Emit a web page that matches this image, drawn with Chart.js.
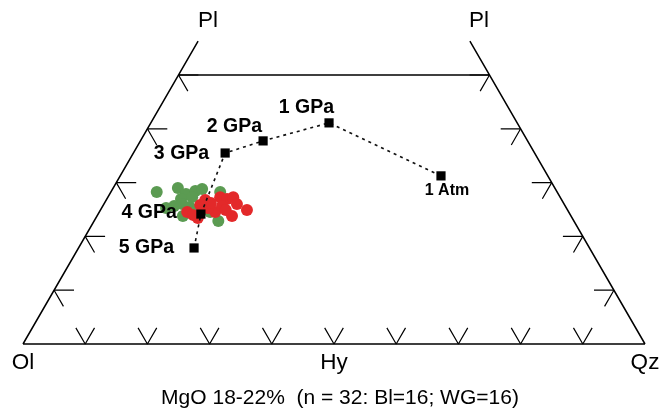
<!DOCTYPE html>
<html><head><meta charset="utf-8">
<script src="https://cdn.jsdelivr.net/npm/chart.js@4.4.0/dist/chart.umd.min.js"></script>
<style>html,body{margin:0;padding:0;background:#fff}canvas{display:block}</style>
</head><body>
<canvas id="c" width="664" height="409"></canvas>
<script>
// Diagram coordinates: x runs Ol (0) – Hy (50) – Qz (100) along the base,
// y is the Pl fraction (0 at the base, 100 at the Pl apices).
const pressureLabels = ['5 GPa', '4 GPa', '3 GPa', '2 GPa', '1 GPa', '1 Atm'];
const pressureX = [27.5, 28.6, 32.5, 38.6, 49.2, 67.2];
const pressureY = [35.7, 48.3, 71.0, 75.5, 82.2, 62.5];

const greenX = [21.5, 24.9, 26.2, 27.7, 28.8, 25.4, 24.3, 25.6, 26.8, 25.7, 31.7, 31.4, 30.1, 28.0, 23.0, 27.2];
const greenY = [56.5, 58.0, 55.8, 56.9, 57.6, 53.9, 51.3, 52.0, 50.9, 47.6, 56.5, 45.7, 49.1, 49.8, 50.6, 54.6];

const redX = [29.3, 31.7, 32.8, 33.8, 34.4, 36.0, 33.6, 30.9, 29.7, 28.1, 26.4, 27.3, 30.2, 32.0, 28.5, 32.6];
const redY = [53.5, 54.6, 53.9, 54.6, 52.0, 49.8, 47.6, 49.1, 50.6, 46.8, 49.1, 48.0, 52.4, 51.3, 51.7, 49.8];

const cornerNames = ['Ol', 'Hy', 'Qz', 'Pl', 'Pl'];
const captionText = 'MgO 18-22%  (n = 32: Bl=16; WG=16)';
const sideTickFractions = [0.2, 0.4, 0.6, 0.8, 1.0];
const baseTicks = [10, 20, 30, 40, 50, 60, 70, 80, 90];

// ---- build geometry (diagram units) ----
const GAP = {x: null, y: null};
const frame = [];
function seg(a, b) { frame.push({x: a[0], y: a[1]}, {x: b[0], y: b[1]}, GAP); }
const ext = 1.126;
seg([0, 0], [100, 0]);
seg([0, 0], [25 * ext, 100 * ext]);
seg([100, 0], [100 - 25 * ext, 100 * ext]);
seg([25, 100], [75, 100]);

const ticks = [];
function tseg(a, b) { ticks.push({x: a[0], y: a[1]}, {x: b[0], y: b[1]}, GAP); }
const f = 0.06, hLen = 3.2;
sideTickFractions.forEach(t => {
  const lx = 25 * t, ly = 100 * t;
  tseg([lx, ly], [lx + hLen, ly]);
  tseg([lx, ly], [lx + 25 * f, ly - 100 * f]);
  const rx = 100 - 25 * t;
  tseg([rx, ly], [rx - hLen, ly]);
  tseg([rx, ly], [rx - 25 * f, ly - 100 * f]);
});
baseTicks.forEach(x => {
  tseg([x, 0], [x - 25 * f, 100 * f]);
  tseg([x, 0], [x + 25 * f, 100 * f]);
});

const toPts = (xs, ys) => xs.map((x, i) => ({x, y: ys[i]}));

// label offsets (pixels) relative to each pressure point
const labelOffsets = {
  '5 GPa': [-20, 0, 'right'], '4 GPa': [-24, -1, 'right'], '3 GPa': [-16, 1, 'right'],
  '2 GPa': [-1, -14, 'right'], '1 GPa': [5, -15, 'right'], '1 Atm': [6, 15, 'center']
};

const textPlugin = {
  id: 'texts',
  afterDatasetsDraw(chart) {
    const {ctx, scales: {x, y}} = chart;
    ctx.save();
    ctx.fillStyle = '#000';
    ctx.textBaseline = 'middle';
    pressureLabels.forEach((lab, i) => {
      const o = labelOffsets[lab];
      ctx.font = lab === '1 Atm' ? 'bold 16px "Liberation Sans", Arial, sans-serif'
                                 : 'bold 19.5px "Liberation Sans", Arial, sans-serif';
      ctx.textAlign = o[2];
      ctx.fillText(lab, x.getPixelForValue(pressureX[i]) + o[0], y.getPixelForValue(pressureY[i]) + o[1]);
    });
    ctx.font = '22.5px "Liberation Sans", Arial, sans-serif';
    ctx.textAlign = 'center';
    const by = y.getPixelForValue(0) + 19;
    ctx.fillText(cornerNames[0], x.getPixelForValue(0), by);
    ctx.fillText(cornerNames[1], x.getPixelForValue(50), by);
    ctx.fillText(cornerNames[2], x.getPixelForValue(100), by);
    const ty = y.getPixelForValue(100) - 54;
    ctx.fillText(cornerNames[3], x.getPixelForValue(25 * ext) + 10, ty);
    ctx.fillText(cornerNames[4], x.getPixelForValue(100 - 25 * ext) + 9, ty);
    ctx.font = '21px "Liberation Sans", Arial, sans-serif';
    ctx.fillText(captionText, x.getPixelForValue(50) + 6, y.getPixelForValue(0) + 54);
    ctx.restore();
  }
};

new Chart(document.getElementById('c'), {
  type: 'scatter',
  data: {
    datasets: [
      {label: 'P', data: toPts(pressureX, pressureY), showLine: true, borderColor: '#111',
       borderWidth: 1.6, borderDash: [3, 4], pointStyle: 'rect', pointRadius: 6.5,
       pointBackgroundColor: '#000', pointBorderWidth: 0, clip: false},
      {label: 'WG', data: toPts(redX, redY), pointRadius: 6, pointBackgroundColor: '#e3292a',
       pointBorderWidth: 0, clip: false},
      {label: 'Bl', data: toPts(greenX, greenY), pointRadius: 6, pointBackgroundColor: '#5b9b52',
       pointBorderWidth: 0, clip: false},
      {label: 'frame', data: frame, showLine: true, spanGaps: false, borderColor: '#000',
       borderWidth: 1.5, pointRadius: 0, clip: false},
      {label: 'ticks', data: ticks, showLine: true, spanGaps: false, borderColor: '#000',
       borderWidth: 1.2, pointRadius: 0, clip: false}
    ]
  },
  options: {
    responsive: false, animation: false, devicePixelRatio: 1,
    layout: {padding: {left: 23, right: 19, top: 34.65, bottom: 65}},
    scales: {
      x: {type: 'linear', min: 0, max: 100, display: false},
      y: {type: 'linear', min: 0, max: 115, display: false}
    },
    plugins: {legend: {display: false}, tooltip: {enabled: false}},
    events: []
  },
  plugins: [textPlugin]
});
</script>
</body></html>
